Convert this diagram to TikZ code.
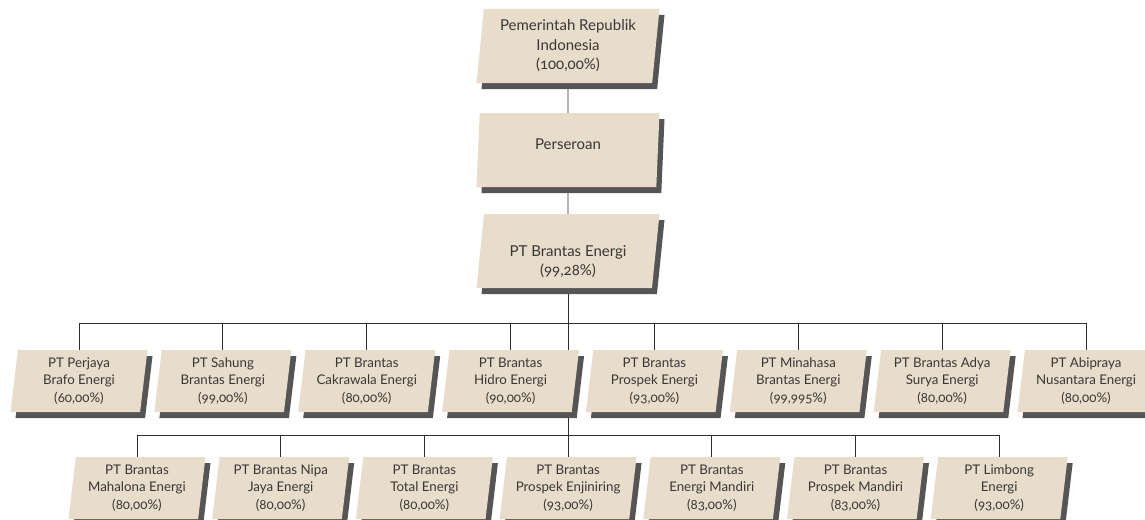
\documentclass[tikz,border=0pt]{standalone}
\usepackage{fontspec}
\setmainfont{Lato}[Numbers=OldStyle]
\usetikzlibrary{shapes.geometric, shadows, backgrounds, positioning}
\definecolor{boxfill}{HTML}{E8DCCA}
\definecolor{boxshadow}{HTML}{555555}
\definecolor{boxtext}{HTML}{383838}
\definecolor{linkgray}{HTML}{2E2E2E}

\tikzset{
  unit/.style={trapezium, trapezium left angle=82, trapezium right angle=98,
    trapezium stretches body, fill=boxfill, text=boxtext, align=center,
    inner sep=0pt,
    drop shadow={shadow xshift=5pt, shadow yshift=-6pt, fill=boxshadow, opacity=1}},
  topunit/.style={unit, minimum width=183pt, minimum height=74pt,
    font=\fontsize{15}{19.5}\selectfont},
  subunit/.style={unit, trapezium left angle=81, trapezium right angle=99,
    minimum width=137pt, minimum height=62pt,
    font=\fontsize{13.3}{17.5}\selectfont},
  link/.style={draw=linkgray, line width=0.9pt}
}

\begin{document}
\begin{tikzpicture}[x=1pt, y=-1pt]
  \useasboundingbox (0,0) rectangle (1145,519);

  % holding chain
  \node[topunit] (gov) at (568,46) {Pemerintah Republik\\Indonesia\\(100,00\%)};
  \node[topunit] (pers) at (568,150) {Perseroan\rule[-12pt]{0pt}{0pt}};
  \node[topunit] (be) at (568,251) {\rule{0pt}{32pt}PT Brantas Energi\\(99,28\%)};

  % subsidiaries, first row
  \foreach \name [count=\i] in {
      {PT Perjaya\\Brafo Energi\\(60,00\%)},
      {PT Sahung\\Brantas Energi\\(99,00\%)},
      {PT Brantas\\Cakrawala Energi\\(80,00\%)},
      {PT Brantas\\Hidro Energi\\(90,00\%)},
      {PT Brantas\\Prospek Energi\\(93,00\%)},
      {PT Minahasa\\Brantas Energi\\(99,995\%)},
      {PT Brantas Adya\\Surya Energi\\(80,00\%)},
      {PT Abipraya\\Nusantara Energi\\(80,00\%)}}
    \node[subunit] (a\i) at ({79+143.86*(\i-1)},381) {\name};

  % subsidiaries, second row
  \foreach \name [count=\i] in {
      {PT Brantas\\Mahalona Energi\\(80,00\%)},
      {PT Brantas Nipa\\Jaya Energi\\(80,00\%)},
      {PT Brantas\\Total Energi\\(80,00\%)},
      {PT Brantas\\Prospek Enjiniring\\(93,00\%)},
      {PT Brantas\\Energi Mandiri\\(83,00\%)},
      {PT Brantas\\Prospek Mandiri\\(83,00\%)},
      {PT Limbong\\Energi\\(93,00\%)}}
    \node[subunit] (b\i) at ({137+143.7*(\i-1)},488) {\name};

  \coordinate (rail1) at (568,323);
  \coordinate (rail2) at (568,435);

  \begin{scope}[on background layer]
    \draw[link] (gov) -- (pers);
    \draw[link] (pers) -- (be);
    \draw[link] (be) -- (rail2);
    \draw[link] (a1.center |- rail1) -- (a8.center |- rail1);
    \foreach \i in {1,...,8}
      \draw[link] (a\i.center) -- (a\i.center |- rail1);
    \draw[link] (b1.center |- rail2) -- (b7.center |- rail2);
    \foreach \i in {1,...,7}
      \draw[link] (b\i.center) -- (b\i.center |- rail2);
  \end{scope}
\end{tikzpicture}
\end{document}
